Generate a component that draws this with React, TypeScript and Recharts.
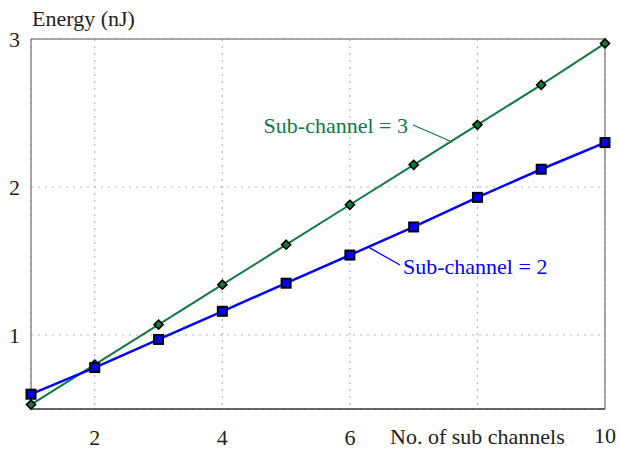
import React from 'react';
import {
  LineChart,
  Line,
  XAxis,
  YAxis,
  CartesianGrid,
  ReferenceLine,
  ReferenceDot
} from 'recharts';

// values
const subChannels = [1, 2, 3, 4, 5, 6, 7, 8, 9, 10];
const energySub3 = [0.53, 0.8, 1.07, 1.34, 1.61, 1.88, 2.15, 2.42, 2.69, 2.97];
const energySub2 = [0.6, 0.78, 0.97, 1.16, 1.35, 1.54, 1.73, 1.93, 2.12, 2.3];

const xTicks = [2, 4, 6, 8, 10];
const yTicks = [1, 2, 3];

const GREEN = '#107a40';
const BLUE = '#0000ff';
const FONT = "'Liberation Serif', 'Times New Roman', Times, 'DejaVu Serif', serif";
const TEXT = '#222';
const textStyle = { fontFamily: FONT, fontSize: 22 };

const data = subChannels.map((n, i) => ({
  n,
  sub3: energySub3[i],
  sub2: energySub2[i]
}));

const Diamond = (props: any) => {
  const { cx, cy } = props;
  if (cx == null || cy == null) return null;
  const r = 4.5;
  return (
    <path
      d={`M${cx},${cy - r}L${cx + r},${cy}L${cx},${cy + r}L${cx - r},${cy}Z`}
      fill={GREEN}
      stroke="#000"
      strokeWidth={1.6}
    />
  );
};

const Square = (props: any) => {
  const { cx, cy } = props;
  if (cx == null || cy == null) return null;
  return (
    <rect x={cx - 4.5} y={cy - 4.5} width={9} height={9} fill={BLUE} stroke="#000" strokeWidth={2} />
  );
};

// the "8" label is left out, the axis title sits in its place
const XTick = (props: any) => {
  const { x, y, payload } = props;
  if (payload.value === 8) return null;
  const last = payload.value === 10;
  return (
    <text x={x} y={last ? y + 26 : y + 28} textAnchor="middle" style={textStyle} fill={TEXT}>
      {payload.value}
    </text>
  );
};

const YTick = (props: any) => {
  const { y, payload } = props;
  return (
    <text x={20} y={y + 8} textAnchor="end" style={textStyle} fill={TEXT}>
      {payload.value}
    </text>
  );
};

const YLabel = (props: any) => {
  const { viewBox } = props;
  return (
    <text x={viewBox.x + viewBox.width + 1} y={viewBox.y - 13} style={textStyle} fill={TEXT}>
      Energy (nJ)
    </text>
  );
};

const XLabel = (props: any) => {
  const { viewBox } = props;
  return (
    <text x={390} y={viewBox.y + 35} style={textStyle} fill={TEXT}>
      No. of sub channels
    </text>
  );
};

const noteText = (value: string, color: string, anchor: 'start' | 'end') => (p: any) => (
  <text x={p.cx} y={p.cy} textAnchor={anchor} style={textStyle} fill={color}>
    {value}
  </text>
);

export default function App() {
  return (
    <div style={{ position: 'absolute', left: 0, top: 0, background: '#fff', fontFamily: FONT }}>
      <LineChart width={620} height={456} data={data} margin={{ top: 39, right: 15, bottom: 0, left: 0 }}>
        <CartesianGrid stroke="#b5b5b5" strokeDasharray="2 5" strokeWidth={1.2} />
        <XAxis
          dataKey="n"
          type="number"
          domain={[1, 10]}
          ticks={xTicks}
          height={47}
          tickLine={false}
          tick={<XTick />}
          axisLine={{ stroke: '#333', strokeWidth: 1.5 }}
          label={<XLabel />}
        />
        <YAxis
          type="number"
          domain={[0.5, 3]}
          ticks={yTicks}
          width={31}
          tickLine={false}
          tick={<YTick />}
          axisLine={{ stroke: '#8a8a8a', strokeWidth: 1.5 }}
          label={<YLabel />}
        />
        <ReferenceLine y={3} stroke="#8a8a8a" strokeWidth={1.5} />
        <ReferenceLine x={10} stroke="#8a8a8a" strokeWidth={1.5} />
        <ReferenceLine segment={[{ x: 6.99, y: 2.419 }, { x: 7.57, y: 2.311 }]} stroke={GREEN} strokeWidth={1.3} />
        <ReferenceLine segment={[{ x: 6.284, y: 1.595 }, { x: 6.786, y: 1.473 }]} stroke={BLUE} strokeWidth={1.3} />
        <Line
          dataKey="sub3"
          stroke={GREEN}
          strokeWidth={2}
          dot={<Diamond />}
          activeDot={false}
          isAnimationActive={false}
        />
        <Line
          dataKey="sub2"
          stroke={BLUE}
          strokeWidth={2.5}
          dot={<Square />}
          activeDot={false}
          isAnimationActive={false}
        />
        <ReferenceDot x={6.911} y={2.365} r={0} shape={noteText('Sub-channel = 3', GREEN, 'end')} />
        <ReferenceDot x={6.833} y={1.412} r={0} shape={noteText('Sub-channel = 2', BLUE, 'start')} />
      </LineChart>
    </div>
  );
}
